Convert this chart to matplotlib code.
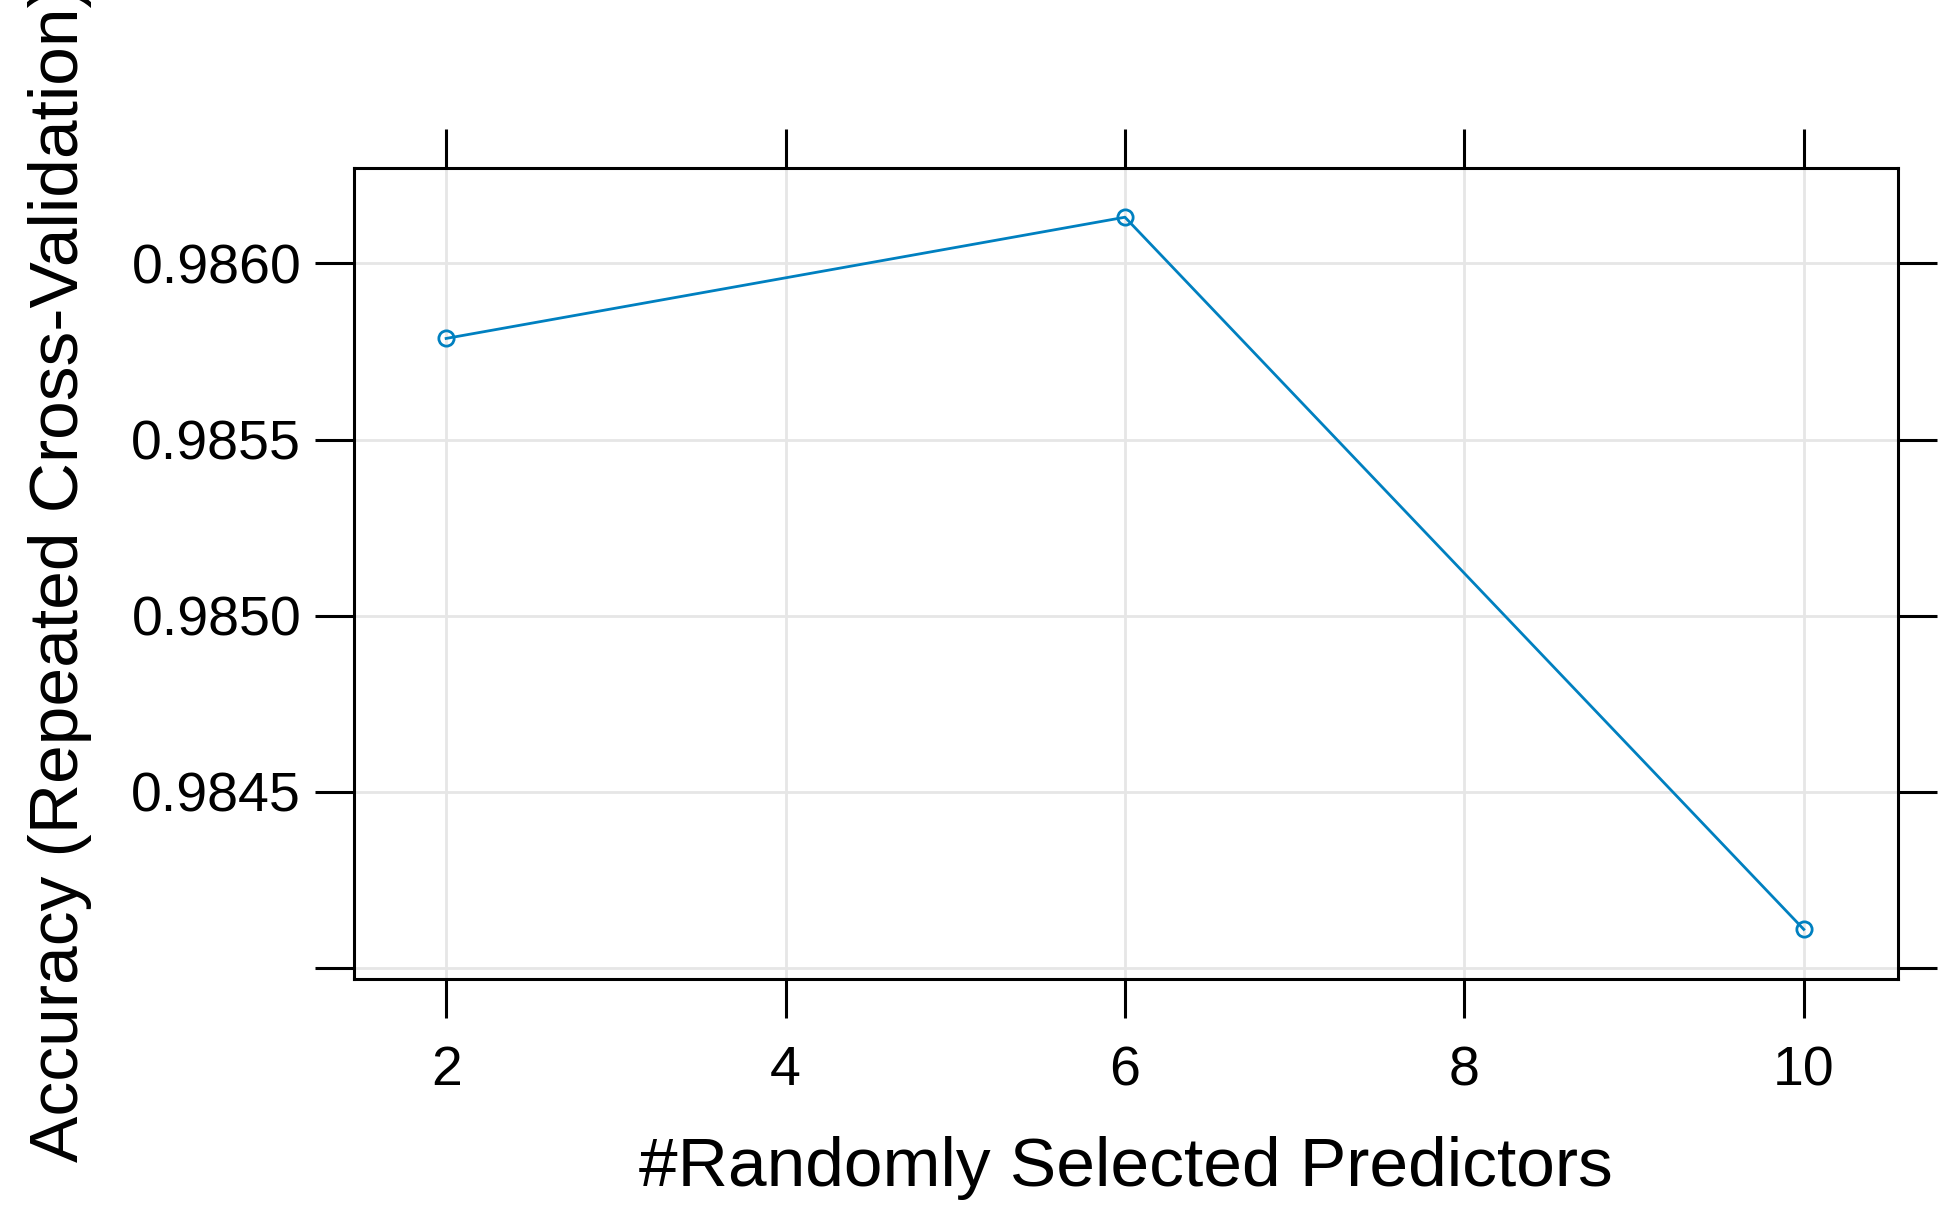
import matplotlib
matplotlib.use("Agg")
import matplotlib.pyplot as plt

mtry = [2, 6, 10]
accuracy = [0.985787, 0.986131, 0.984110]
xticks = [2, 4, 6, 8, 10]
yticks = [0.9840, 0.9845, 0.9850, 0.9855, 0.9860]
ylabels = ["", "0.9845", "0.9850", "0.9855", "0.9860"]

plt.rcParams['font.family'] = ['Liberation Sans', 'DejaVu Sans']
fig = plt.figure(figsize=(19.45, 12.28), dpi=100)
ax = fig.add_axes([0.182, 0.203, 0.794, 0.660])
ax.plot(mtry, accuracy, color='#0080C0', lw=2, marker='o', ms=11,
        mfc='none', mec='#0080C0', mew=2)
ax.set_xlim(1.457, 10.557)
ax.set_ylim(0.98397, 0.98627)
ax.set_xticks(xticks)
ax.set_yticks(yticks)
ax.set_yticklabels(ylabels)
ax.grid(True, color='#e6e6e6', lw=2)
ax.set_axisbelow(True)
for s in ax.spines.values():
    s.set_linewidth(2.2)
ax.tick_params(axis='both', direction='out', length=28, width=2.2, labelsize=40,
               top=True, right=True, pad=10, colors='black')
ax.tick_params(axis='x', pad=20)
ax.set_xlabel("#Randomly Selected Predictors", fontsize=50, labelpad=28)
ax.set_ylabel("Accuracy (Repeated Cross-Validation)", fontsize=50, labelpad=28)
fig.savefig("out.png", dpi=100, facecolor='white')
